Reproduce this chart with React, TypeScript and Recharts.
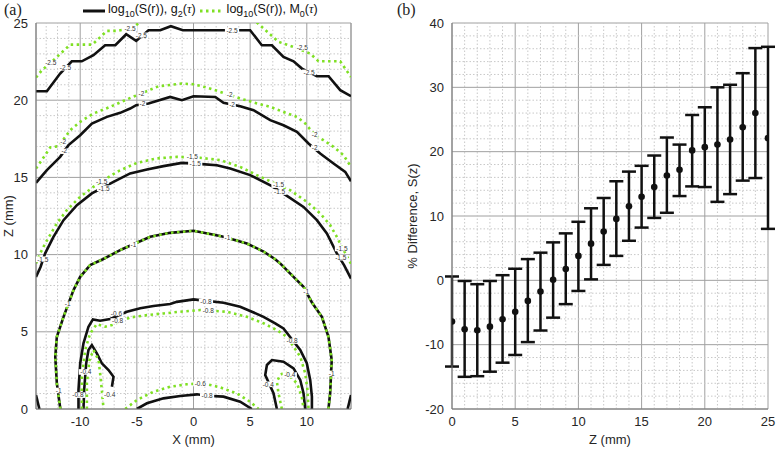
import React from "react";
import { ComposedChart, Line, Scatter, XAxis, YAxis, CartesianGrid, ErrorBar, ReferenceLine } from "recharts";

type Pt = [number, number];

// ---------- panel (a): contour traces, [X mm, Z mm] ----------
const black25: Pt[] = [[-13.9, 20.58], [-12.94, 20.58], [-11.77, 21.73], [-10.74, 22.52], [-9.86, 22.52], [-8.83, 22.91], [-7.8, 23.56], [-6.9, 23.56], [-5.94, 24.27], [-5.06, 23.84], [-3.97, 24.53], [-2.94, 24.53], [-2.0, 24.79], [-0.94, 24.53], [2.65, 24.53], [4.18, 24.53], [5.0, 24.53], [6.03, 23.56], [6.92, 23.56], [7.94, 22.8], [8.83, 22.52], [9.57, 22.05], [10.89, 21.55], [11.92, 21.55], [12.95, 20.65], [13.9, 20.26]];
const green25: Pt[] = [[-13.9, 21.47], [-13.38, 21.94], [-12.36, 22.59], [-10.88, 23.6], [-8.94, 23.6], [-7.64, 24.49], [-6.76, 24.49], [-5.59, 24.64], [-4.47, 25.13], [-4.2, 25.6], [5.2, 25.6], [5.45, 25.13], [6.19, 24.64], [7.5, 23.78], [8.83, 23.45], [10.3, 23.02], [11.03, 22.52], [12.95, 22.52], [13.9, 21.5]];
const black20: Pt[] = [[-13.9, 14.65], [-12.94, 15.47], [-11.77, 16.33], [-11.03, 17.09], [-10.0, 17.73], [-8.97, 18.49], [-7.64, 18.92], [-6.47, 19.18], [-5.59, 19.46], [-5.06, 19.68], [-3.97, 19.79], [-2.06, 20.21], [-1.02, 20.0], [0, 20.26], [1.92, 20.21], [2.65, 19.83], [4.12, 19.61], [5.3, 19.35], [6.77, 18.71], [7.94, 18.38], [9.13, 17.95], [10.15, 17.2], [11.18, 16.55], [12.36, 15.9], [13.39, 15.36], [13.9, 14.75]];
const green20: Pt[] = [[-13.9, 15.58], [-13.09, 16.44], [-12.65, 16.94], [-11.91, 17.02], [-10.88, 18.06], [-10.0, 18.6], [-8.83, 19.14], [-7.35, 19.57], [-5.88, 20.05], [-5.0, 20.32], [-3.09, 20.9], [-1.02, 21.08], [0, 21.03], [1.18, 20.82], [2.36, 20.54], [4.12, 20.11], [5.6, 19.79], [6.77, 19.57], [7.94, 19.24], [9.13, 18.92], [9.86, 18.49], [10.74, 17.73], [11.47, 17.41], [12.36, 16.98], [13.24, 16.44], [13.9, 15.68]];
const black15: Pt[] = [[-13.9, 8.55], [-13.5, 9.2], [-13.09, 10.08], [-12.36, 11.15], [-11.47, 12.23], [-10.29, 13.2], [-8.97, 13.96], [-7.06, 14.71], [-5.59, 15.26], [-4.11, 15.51], [-2.65, 15.73], [-1.02, 15.94], [0.74, 15.86], [2.06, 15.79], [3.24, 15.58], [5.0, 15.15], [6.92, 14.43], [8.38, 13.74], [9.71, 13.09], [10.89, 12.23], [11.77, 11.37], [12.65, 10.08], [13.3, 9.3], [13.9, 8.45]];
const green15: Pt[] = [[-13.9, 9.43], [-13.53, 10.08], [-13.09, 10.72], [-12.06, 12.02], [-11.18, 12.88], [-10.0, 13.74], [-8.83, 14.39], [-6.76, 15.36], [-5.0, 15.94], [-3.24, 16.23], [-1.47, 16.33], [0.59, 16.27], [2.36, 16.12], [4.12, 15.68], [5.89, 15.04], [8.53, 14.17], [10.0, 13.42], [11.18, 12.67], [12.06, 11.91], [12.65, 11.15], [13.09, 10.5], [13.9, 9.4]];
const both10: Pt[] = [[-11.75, 0], [-12.06, 1.66], [-12.2, 3.39], [-12.06, 4.68], [-11.47, 5.97], [-10.59, 7.7], [-10.0, 8.56], [-9.12, 9.32], [-8.0, 9.7], [-6.3, 10.35], [-3.82, 11.15], [-2.06, 11.41], [0, 11.54], [1.47, 11.33], [2.65, 11.15], [4.71, 10.72], [6.18, 10.2], [7.21, 9.7], [7.65, 9.43], [8.83, 8.56], [9.71, 7.92], [10.45, 6.9], [11.33, 5.97], [11.91, 4.68], [12.2, 3.17], [12.06, 1.02], [11.91, 0]];
const black08: Pt[] = [[-10.15, 0], [-10.15, 1.23], [-10.0, 2.96], [-9.71, 4.25], [-9.27, 5.33], [-8.88, 5.8], [-8.24, 5.72], [-7.35, 5.83], [-5.88, 6.3], [-4.7, 6.52], [-3.53, 6.67], [-2.06, 6.8], [-1.47, 6.94], [0, 7.1], [2.65, 6.88], [4.12, 6.62], [5.0, 6.35], [6.18, 5.97], [7.21, 5.55], [7.94, 5.22], [8.7, 4.5], [9.42, 3.82], [10.0, 2.96], [10.3, 1.88], [10.45, 0.8], [10.45, 0]];
const green08: Pt[] = [[-9.85, 0], [-9.85, 2.09], [-9.56, 3.82], [-9.12, 4.9], [-8.53, 5.5], [-7.79, 5.33], [-7.2, 5.44], [-5.59, 5.93], [-4.11, 6.08], [-2.65, 6.19], [-1.17, 6.3], [0.59, 6.41], [2.94, 6.3], [4.71, 5.97], [6.18, 5.55], [7.36, 5.11], [8.24, 4.68], [9.42, 3.39], [9.86, 2.31], [10.06, 1.23], [10.15, 0]];
const black04L: Pt[] = [[-9.71, 0], [-9.65, 1.23], [-9.47, 2.96], [-9.27, 3.82], [-8.97, 4.14], [-8.53, 3.6], [-8.09, 2.96], [-7.5, 2.52], [-7.06, 2.09], [-7.2, 1.44]];
const green04L: Pt[] = [[-9.41, 0], [-9.41, 1.66], [-9.18, 3.17], [-8.83, 3.82], [-8.38, 3.17], [-8.24, 2.31], [-8.09, 1.23], [-7.94, 0]];
const black04R: Pt[] = [[7.36, 0], [7.06, 1.02], [6.33, 2.2], [6.48, 2.85], [6.92, 3.17], [7.94, 3.06], [8.83, 2.63], [9.42, 1.88], [9.71, 1.02], [9.86, 0]];
const green04R: Pt[] = [[7.8, 0], [7.5, 1.02], [7.36, 1.77], [7.65, 2.2], [8.09, 2.41], [9.13, 1.66], [9.56, 0.8], [9.71, 0]];
const green06B: Pt[] = [[-6.03, 0], [-5.0, 0.58], [-3.53, 1.12], [-2.06, 1.44], [-0.59, 1.6], [0.88, 1.66], [2.36, 1.4], [3.83, 1.01], [5.0, 0.47], [5.74, 0]];
const black08B: Pt[] = [[-5.0, 0], [-4.11, 0.37], [-2.65, 0.69], [-1.17, 0.84], [0.3, 0.95], [1.18, 0.86], [2.65, 0.8], [4.12, 0.47], [5.15, 0]];
const blackCornerL: Pt[] = [[-13.9, 0.9], [-13.6, 0]];
const blackCornerR: Pt[] = [[13.6, 0], [13.9, 0.9]];

const contourLabels: [number, number, string][] = [
  [-11.3, 22.1, "-2.5"], [-4.6, 24.2, "-2.5"], [3.4, 24.5, "-2.5"], [10.2, 21.8, "-2.5"],
  [-12.6, 22.4, "-2.5"], [-5.6, 24.65, "-2.5"], [9.6, 23.4, "-2.5"],
  [-11.4, 16.7, "-2"], [-4.5, 19.75, "-2"], [3.4, 19.7, "-2"], [10.7, 16.9, "-2"],
  [-11.5, 17.3, "-2"], [-4.6, 20.45, "-2"], [3.2, 20.35, "-2"], [10.7, 17.75, "-2"],
  [-13.3, 9.7, "-1.5"], [-7.9, 14.3, "-1.5"], [0.15, 15.9, "-1.5"], [7.6, 14.05, "-1.5"], [13.0, 9.8, "-1.5"],
  [-8.1, 14.75, "-1.5"], [-0.1, 16.35, "-1.5"], [7.5, 14.5, "-1.5"], [13.1, 10.4, "-1.5"],
  [-5.3, 10.65, "-1"], [3.0, 11.1, "-1"], [-11.1, 6.8, "-1"], [-11.9, 1.2, "-1"], [9.95, 7.6, "-1"], [12.2, 2.3, "-1"],
  [-6.8, 6.2, "-0.6"], [1.1, 6.95, "-0.8"], [-6.7, 5.7, "-0.8"], [1.3, 6.35, "-0.8"], [8.7, 4.4, "-0.8"],
  [-10.2, 0.9, "-0.8"], [0.6, 1.65, "-0.6"], [1.2, 0.85, "-0.8"],
  [-9.5, 2.4, "-0.4"], [-7.4, 0.9, "-0.4"], [6.6, 1.6, "-0.4"], [8.5, 2.2, "-0.4"],
];

const xTicksA = [-10, -5, 0, 5, 10];
const zTicksA = [0, 5, 10, 15, 20, 25];
const xMinorA = [-13, -12, -11, -9, -8, -7, -6, -4, -3, -2, -1, 1, 2, 3, 4, 6, 7, 8, 9, 11, 12, 13];
const zMinorA = [1, 2, 3, 4, 6, 7, 8, 9, 11, 12, 13, 14, 16, 17, 18, 19, 21, 22, 23, 24];

// ---------- panel (b): % difference vs depth ----------
const depthZ = [0, 1, 2, 3, 4, 5, 6, 7, 8, 9, 10, 11, 12, 13, 14, 15, 16, 17, 18, 19, 20, 21, 22, 23, 24, 25];
const meanDiff = [-6.4, -7.6, -7.75, -7.2, -6.05, -4.9, -3.2, -1.75, 0.1, 1.75, 3.8, 5.7, 7.6, 9.55, 11.5, 13.0, 14.5, 16.3, 17.2, 20.2, 20.7, 21.1, 21.9, 23.8, 26.0, 22.1];
const upperDiff = [0.6, -0.1, -0.6, -0.1, 0.8, 1.8, 3.3, 4.3, 5.9, 7.3, 9.1, 11.2, 12.8, 15.4, 16.9, 17.8, 19.4, 22.2, 21.1, 25.7, 26.9, 30.0, 30.4, 32.2, 36.1, 36.3];
const lowerDiff = [-13.4, -15.0, -14.9, -14.2, -12.8, -11.6, -9.6, -7.8, -5.8, -3.7, -1.65, 0.15, 2.4, 3.8, 6.15, 8.2, 9.7, 10.5, 13.1, 14.6, 14.5, 12.2, 13.4, 15.5, 15.9, 8.0];

const zTicksB = [0, 5, 10, 15, 20, 25];
const yTicksB = [-20, -10, 0, 10, 20, 30, 40];
const zMinorB = [1, 2, 3, 4, 6, 7, 8, 9, 11, 12, 13, 14, 16, 17, 18, 19, 21, 22, 23, 24];
const yMinorB = [-18, -16, -14, -12, -8, -6, -4, -2, 2, 4, 6, 8, 12, 14, 16, 18, 22, 24, 26, 28, 32, 34, 36, 38];

const rowsB = depthZ.map((z, i) => ({ z, v: meanDiff[i], err: [meanDiff[i] - lowerDiff[i], upperDiff[i] - meanDiff[i]] }));

const FONT = "'Liberation Sans', Arial, sans-serif";
const tickStyle = { fontSize: 13, fill: "#262626", fontFamily: FONT };
const BLACK = "#111";
const GREEN = "#7fe024";
const MINOR = "#c8c8c8";

const rows = (pts: Pt[]) => pts.map(([x, z]) => ({ x, z }));
const blackSet = [black25, black20, black15, black08, black04L, black04R, black08B, blackCornerL, blackCornerR, both10];
const greenSet = [green25, green20, green15, green08, green04L, green04R, green06B, both10];

const ContourLabel = (props: any) => {
  const { cx, cy, payload } = props;
  const w = payload.t.length * 3.3 + 1;
  return (
    <g>
      <rect x={cx - w / 2} y={cy - 2.8} width={w} height={5.6} fill="#fff" />
      <text x={cx} y={cy + 2.3} textAnchor="middle" fontSize={6.5} fill="#333" fontFamily={FONT}>
        {payload.t}
      </text>
    </g>
  );
};

const Dot = (props: any) => <circle cx={props.cx} cy={props.cy} r={3.3} fill={BLACK} />;

function LegendSub({ sub, after }: { sub: string; after: string }) {
  return (
    <span>
      log<sub style={{ fontSize: 9 }}>10</sub>(S(r)), {after}
      <sub style={{ fontSize: 9 }}>{sub}</sub>(<i style={{ fontFamily: "'Liberation Serif', serif" }}>τ</i>)
    </span>
  );
}

const minorLines = (xs: number[], ys: number[]) => [
  ...xs.map((v) => <ReferenceLine key={"mx" + v} x={v} stroke={MINOR} strokeDasharray="1.5 2" />),
  ...ys.map((v) => <ReferenceLine key={"my" + v} y={v} stroke={MINOR} strokeDasharray="1.5 2" />),
];

function PanelA() {
  return (
    <ComposedChart width={360} height={449} margin={{ top: 23, right: 9, bottom: 0, left: 0 }}>
      <CartesianGrid stroke="#a0a0a0" />
      <XAxis
        dataKey="x"
        type="number"
        domain={[-13.9, 13.9]}
        ticks={xTicksA}
        allowDataOverflow
        height={40}
        tickLine={false}
        axisLine={{ stroke: "#777" }}
        tick={tickStyle}
        label={{ value: "X (mm)", position: "insideBottom", offset: 5, style: { fontSize: 13, fill: "#262626", fontFamily: FONT } }}
      />
      <YAxis
        dataKey="z"
        type="number"
        domain={[0, 25]}
        ticks={zTicksA}
        allowDataOverflow
        width={36}
        tickLine={false}
        axisLine={{ stroke: "#777" }}
        tick={tickStyle}
        label={{ value: "Z (mm)", angle: -90, position: "insideLeft", offset: 8, style: { fontSize: 13, fill: "#262626", fontFamily: FONT, textAnchor: "middle" } }}
      />
      {minorLines(xMinorA, zMinorA)}
      <ReferenceLine x={13.9} stroke="#999" />
      {blackSet.map((c, i) => (
        <Line key={"b" + i} data={rows(c)} dataKey="z" type="linear" stroke={BLACK} strokeWidth={2.6} dot={false} isAnimationActive={false} />
      ))}
      {greenSet.map((c, i) => (
        <Line key={"g" + i} data={rows(c)} dataKey="z" type="linear" stroke={GREEN} strokeWidth={2.6} strokeDasharray="2.5 3.5" dot={false} isAnimationActive={false} />
      ))}
      <Scatter data={contourLabels.map(([x, z, t]) => ({ x, z, t }))} dataKey="z" shape={ContourLabel} isAnimationActive={false} />
    </ComposedChart>
  );
}

function PanelB() {
  return (
    <ComposedChart width={387} height={449} margin={{ top: 23, right: 9, bottom: 0, left: 0 }}>
      <CartesianGrid stroke="#a0a0a0" />
      <XAxis
        dataKey="z"
        type="number"
        domain={[0, 25]}
        ticks={zTicksB}
        allowDataOverflow
        height={40}
        tickLine={false}
        axisLine={{ stroke: "#777" }}
        tick={tickStyle}
        label={{ value: "Z (mm)", position: "insideBottom", offset: 5, style: { fontSize: 13, fill: "#262626", fontFamily: FONT } }}
      />
      <YAxis
        dataKey="v"
        type="number"
        domain={[-20, 40]}
        ticks={yTicksB}
        allowDataOverflow
        width={62}
        tickLine={false}
        axisLine={{ stroke: "#777" }}
        tick={tickStyle}
        label={{ value: "% Difference, S(z)", angle: -90, position: "insideLeft", offset: 22, style: { fontSize: 13, fill: "#262626", fontFamily: FONT, textAnchor: "middle" } }}
      />
      {minorLines(zMinorB, yMinorB)}
      <Scatter data={rowsB} dataKey="v" shape={Dot} isAnimationActive={false}>
        <ErrorBar dataKey="err" direction="y" width={7} strokeWidth={2.5} stroke={BLACK} />
      </Scatter>
    </ComposedChart>
  );
}

export default function App() {
  return (
    <div style={{ position: "absolute", left: 0, top: 0, width: 777, height: 449, background: "#fff", fontFamily: FONT }}>
      <div style={{ position: "absolute", left: 0, top: 0 }}>
        <PanelA />
      </div>
      <div style={{ position: "absolute", left: 390, top: 0 }}>
        <PanelB />
      </div>
      <div style={{ position: "absolute", left: 4, top: 1, fontSize: 16, lineHeight: "18px", fontFamily: "'Liberation Serif', serif", color: "#222" }}>(a)</div>
      <div style={{ position: "absolute", left: 397, top: 1, fontSize: 16, lineHeight: "18px", fontFamily: "'Liberation Serif', serif", color: "#222" }}>(b)</div>
      <div style={{ position: "absolute", left: 82, top: 1, display: "flex", alignItems: "center", fontSize: 12.5, color: "#111", whiteSpace: "nowrap", lineHeight: "16px" }}>
        <svg width={24} height={8} style={{ marginRight: 2 }}>
          <line x1={1} y1={4} x2={23} y2={4} stroke={BLACK} strokeWidth={3} />
        </svg>
        <LegendSub sub="2" after="g" />
        <svg width={26} height={8} style={{ marginLeft: 3, marginRight: 2 }}>
          <line x1={1} y1={4} x2={25} y2={4} stroke={GREEN} strokeWidth={3} strokeDasharray="2.5 3.5" />
        </svg>
        <LegendSub sub="0" after="M" />
      </div>
    </div>
  );
}
